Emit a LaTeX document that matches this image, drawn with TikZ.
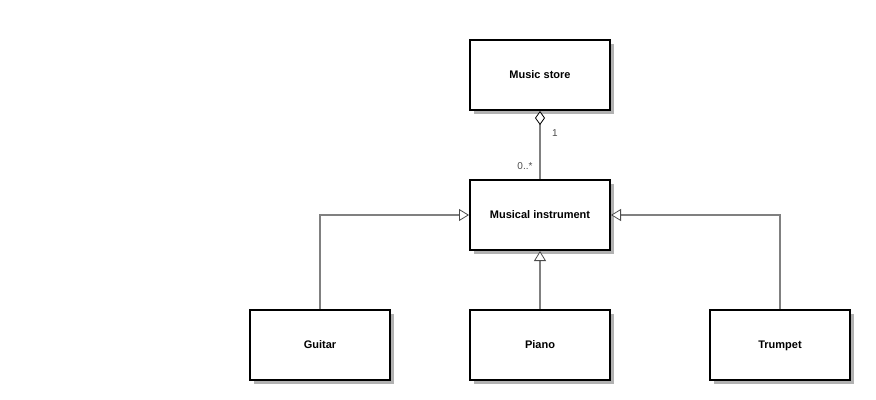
\documentclass[tikz,border=0pt]{standalone}
\usepackage{fontspec}
\setmainfont{Liberation Sans}
\usetikzlibrary{arrows.meta,shadows}
\begin{document}
\begin{tikzpicture}[x=0.75pt,y=-0.75pt,
  cls/.style={draw=black,line width=1.5pt,fill=white,minimum width=105pt,minimum height=52.5pt,
    font=\fontsize{8.25}{10}\selectfont\bfseries,inner sep=0pt,text height=7pt,text depth=1.5pt,
    drop shadow={shadow xshift=3pt,shadow yshift=-3pt,fill=black!30,opacity=1}},
  conn/.style={draw=black!50,line width=1pt},
  gen/.style={conn,-{Triangle[open,fill=white,length=7.5pt,width=9pt,color=black!70,line width=0.6pt]}},
  agg/.style={conn,{Diamond[open,fill=white,length=10.5pt,width=7.5pt,color=black,line width=0.6pt]}-},
  mult/.style={font=\fontsize{7.5}{9}\selectfont,text=black!70,inner sep=0pt}]
\useasboundingbox (0,0) rectangle (876,400);
\node[cls] (store) at (540,75) {Music store};
\node[cls] (inst) at (540,215) {Musical instrument};
\node[cls] (guitar) at (320,345) {Guitar};
\node[cls] (piano) at (540,345) {Piano};
\node[cls] (trumpet) at (780,345) {Trumpet};
\draw[agg] (store.south) -- (inst.north);
\node[mult] (m1) at (555,133) {1};
\node[mult] (m2) at (525,166) {0..*};
\draw[gen] (guitar.north) |- (inst.west);
\draw[gen] (piano.north) -- (inst.south);
\draw[gen] (trumpet.north) |- (inst.east);
\end{tikzpicture}
\end{document}
